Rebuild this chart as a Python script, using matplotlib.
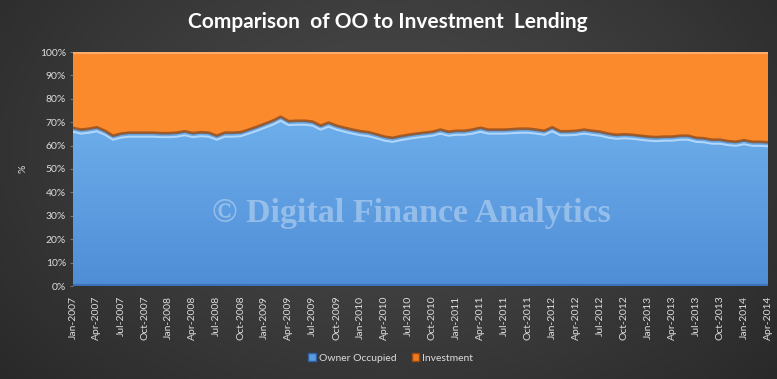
import numpy as np
import pandas as pd
import matplotlib
matplotlib.use('Agg')
import matplotlib.pyplot as plt
from matplotlib.colors import LinearSegmentedColormap
from matplotlib.patches import Patch

# месяцы Jan-2007 .. Apr-2014
months = pd.date_range('2007-01-01', '2014-04-01', freq='MS').strftime('%b-%Y').tolist()

# доля кредитов владельцам жилья, %
owner_occupied = [
    67.5, 66.7, 67.1, 67.7, 66.2, 64.1, 65.0, 65.4, 65.4, 65.4, 65.4, 65.2,
    65.2, 65.4, 66.0, 65.2, 65.6, 65.4, 64.1, 65.4, 65.4, 65.6, 66.7, 67.9,
    69.2, 70.5, 72.2, 70.3, 70.5, 70.5, 70.1, 68.4, 69.7, 68.4, 67.5, 66.7,
    66.0, 65.6, 64.7, 63.7, 63.2, 63.9, 64.5, 65.0, 65.4, 65.8, 66.7, 65.8,
    66.2, 66.2, 66.7, 67.5, 66.7, 66.7, 66.7, 66.9, 67.1, 67.1, 66.7, 66.2,
    67.7, 66.0, 66.0, 66.2, 66.7, 66.2, 65.8, 65.0, 64.5, 64.7, 64.5, 64.1,
    63.7, 63.5, 63.7, 63.7, 64.1, 64.1, 63.2, 63.0, 62.4, 62.4, 61.8, 61.5,
    62.2, 61.5, 61.5, 61.3,
]
# доля инвестиционных кредитов, %
investment = [
    32.5, 33.3, 32.9, 32.3, 33.8, 35.9, 35.0, 34.6, 34.6, 34.6, 34.6, 34.8,
    34.8, 34.6, 34.0, 34.8, 34.4, 34.6, 35.9, 34.6, 34.6, 34.4, 33.3, 32.1,
    30.8, 29.5, 27.8, 29.7, 29.5, 29.5, 29.9, 31.6, 30.3, 31.6, 32.5, 33.3,
    34.0, 34.4, 35.3, 36.3, 36.8, 36.1, 35.5, 35.0, 34.6, 34.2, 33.3, 34.2,
    33.8, 33.8, 33.3, 32.5, 33.3, 33.3, 33.3, 33.1, 32.9, 32.9, 33.3, 33.8,
    32.3, 34.0, 34.0, 33.8, 33.3, 33.8, 34.2, 35.0, 35.5, 35.3, 35.5, 35.9,
    36.3, 36.5, 36.3, 36.3, 35.9, 35.9, 36.8, 37.0, 37.6, 37.6, 38.2, 38.5,
    37.8, 38.5, 38.5, 38.7,
]

W, H = 777, 379
fig = plt.figure(figsize=(W / 100, H / 100), dpi=100)

# тёмный радиальный фон
bg = fig.add_axes([0, 0, 1, 1], zorder=-1)
yy, xx = np.mgrid[0:H, 0:W]
r = np.sqrt(((xx - 390) / 560) ** 2 + ((yy - 150) / 380) ** 2)
bg_cmap = LinearSegmentedColormap.from_list('bg', ['#4b4b4b', '#3a3a3a', '#262626'])
bg.imshow(r, cmap=bg_cmap, vmin=0, vmax=1, aspect='auto')
bg.axis('off')

ax = fig.add_axes([73 / W, 1 - 286 / H, (768 - 73) / W, (286 - 52) / H])
ax.patch.set_alpha(0)

x = np.arange(len(months))
oo = np.array(owner_occupied)
polys = ax.stackplot(x, oo, investment, colors=['#6aaae8', '#fb8a2c'], linewidth=0, zorder=1)

# градиент синей области
grad = np.linspace(0, 1, 256).reshape(-1, 1)
blue_cmap = LinearSegmentedColormap.from_list('b', ['#4f8dd6', '#6fb0ec'])
im = ax.imshow(grad, cmap=blue_cmap, extent=[0, len(x) - 1, 0, 75], origin='lower',
               aspect='auto', zorder=2)
im.set_clip_path(polys[0].get_paths()[0], transform=ax.transData)

# объёмные края на границе
ax.plot(x, oo + 0.1, color='#8a4515', lw=2.0, alpha=0.7, zorder=3)
ax.plot(x, oo - 1.6, color='#bfe0ff', lw=1.4, alpha=0.85, zorder=3)
ax.plot([0, len(x) - 1], [99.6, 99.6], color='#ffb27a', lw=1.2, zorder=3)
ax.plot([0, len(x) - 1], [0.4, 0.4], color='#3b72b8', lw=1.5, zorder=3)

ax.set_xlim(0, len(x) - 1)
ax.set_ylim(0, 100)

ax.set_yticks(range(0, 101, 10))
ax.set_yticklabels([f'{v}%' for v in range(0, 101, 10)], fontsize=7.5, color='#dcdcdc',
                   family='Lato')
ax.set_xticks(x[::3])
ax.set_xticklabels(months[::3], rotation=90, fontsize=7.5, color='#dcdcdc', family='Lato')
ax.tick_params(axis='y', length=2, color='#777777', pad=3)
ax.tick_params(axis='x', length=0, pad=7)
for s in ax.spines.values():
    s.set_visible(False)

fig.text(23 / W, 1 - 169 / H, '%', fontsize=7.5, color='#dcdcdc', family='Lato',
         ha='center', va='center', rotation=90)

fig.text(388 / W, 1 - 22 / H, 'Comparison  of OO to Investment  Lending', fontsize=15,
         fontweight='bold', color='white', family='Lato', ha='center', va='center')

fig.text(411 / W, 1 - 213 / H, '© Digital Finance Analytics', family='Liberation Serif',
         fontweight='bold', fontsize=24.5, color='white', alpha=0.35, ha='center', va='center')

handles = [Patch(facecolor='#5b9be0', edgecolor='#2f5f9f'),
           Patch(facecolor='#f07a20', edgecolor='#9a4a10')]
leg = fig.legend(handles, ['Owner Occupied', 'Investment'], loc='center',
                 bbox_to_anchor=(0.503, 1 - 358 / H), ncol=2, frameon=False,
                 prop={'family': 'Lato', 'size': 7.5}, handlelength=0.7, handleheight=0.7,
                 handletextpad=0.3, columnspacing=1.5)
for t in leg.get_texts():
    t.set_color('#dcdcdc')

fig.savefig('out.png', dpi=100)
